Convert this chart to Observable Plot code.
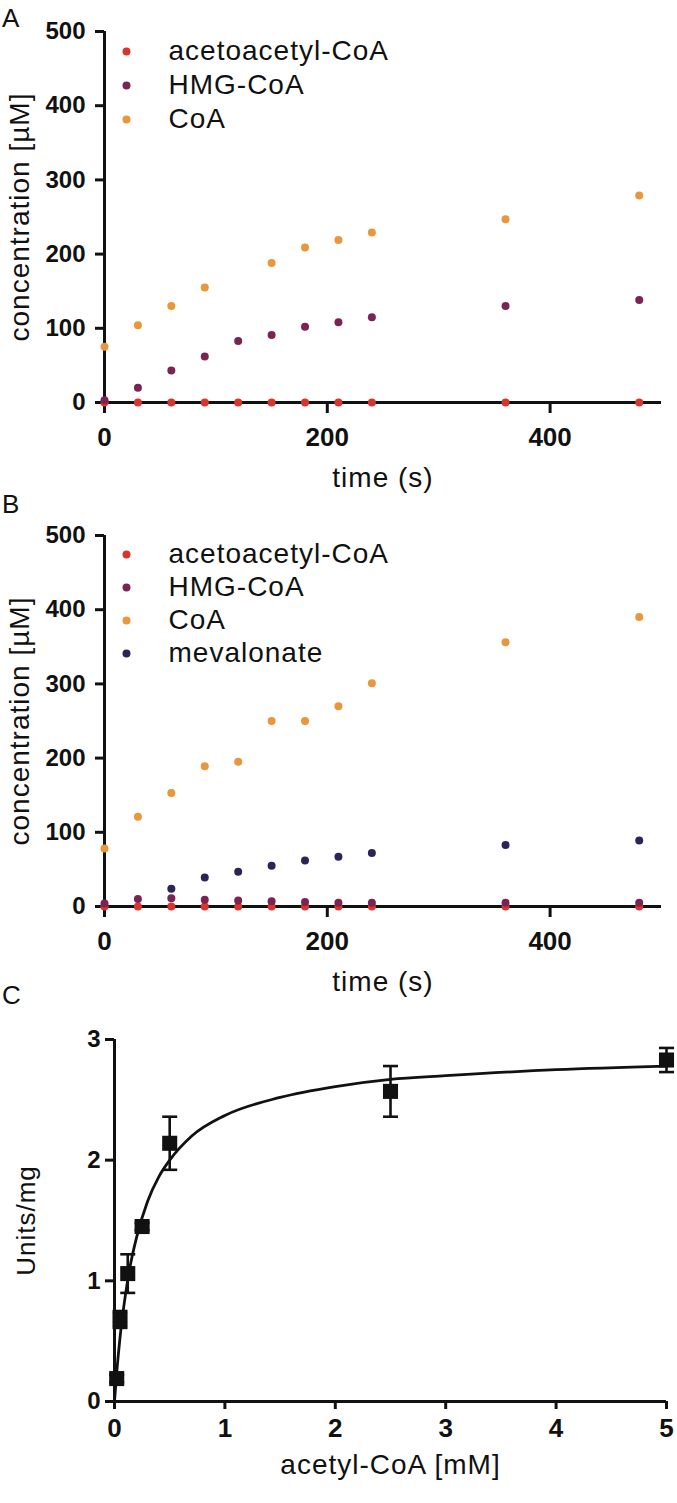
<!DOCTYPE html>
<html><head><meta charset="utf-8">
<script src="https://cdn.jsdelivr.net/npm/d3@7"></script>
<script src="https://cdn.jsdelivr.net/npm/@observablehq/plot@0.6"></script>
<style>
body{margin:0;background:#fff;}
#wrap{position:relative;width:677px;height:1503px;font-family:"Liberation Sans",Arial,sans-serif;color:#111;}
.plab{position:absolute;left:2px;font-size:26px;line-height:26px;}
svg{display:block;}
svg g[aria-label="text"] text{letter-spacing:1px;}
</style></head><body><div id="wrap"></div>
<script>
// ---- data ----
const times = [0, 30, 60, 90, 120, 150, 180, 210, 240, 360, 480];
const timeTicks = [0, 200, 400];
const concTicks = [0, 100, 200, 300, 400, 500];

const seriesA = ["acetoacetyl-CoA", "HMG-CoA", "CoA"];
const aAcetoacetyl = [0, 0, 0, 0, 0, 0, 0, 0, 0, 0, 0];
const aHMG = [3, 20, 43, 62, 83, 91, 102, 108, 115, 130, 138];
const aCoA = [75, 104, 130, 155, null, 188, 209, 219, 229, 247, 279];

const seriesB = ["acetoacetyl-CoA", "HMG-CoA", "CoA", "mevalonate"];
const bAcetoacetyl = [0, 0, 0, 0, 0, 0, 0, 0, 0, 0, 0];
const bHMG = [4, 10, 11, 9, 8, 7, 6, 5, 5, 5, 5];
const bCoA = [78, 121, 153, 189, 195, 250, 250, 270, 301, 356, 390];
const bMevalonate = [null, null, 24, 39, 47, 55, 62, 67, 72, 83, 89];

const seriesColors = ["#d8352c", "#7b2453", "#e9963c", "#2c2459"];

const substrate = [0.02, 0.05, 0.12, 0.25, 0.5, 2.5, 5];
const activity = [0.19, 0.68, 1.06, 1.45, 2.14, 2.57, 2.83];
const activityErr = [0.03, 0.07, 0.16, 0.03, 0.22, 0.21, 0.10];
const fitS = [0, 0.02, 0.05, 0.1, 0.15, 0.2, 0.3, 0.4, 0.5, 0.7, 1, 1.5, 2, 2.5, 3, 4, 5];
const fitV = [0, 0.24, 0.53, 0.89, 1.16, 1.36, 1.66, 1.86, 2.0, 2.2, 2.37, 2.52, 2.61, 2.67, 2.7, 2.75, 2.78];
const substrateTicks = [0, 1, 2, 3, 4, 5];
const activityTicks = [0, 1, 2, 3];

// ---- drawing ----
const FONT = '"Liberation Sans", Arial, sans-serif';
const INK = "#111";
const wrap = document.getElementById("wrap");

function timePanel({height, marginTop, marginBottom, names, columns, rowGap, legendTop}) {
  const data = [];
  names.forEach((name, k) => {
    columns[k].forEach((v, i) => { if (v != null) data.push({time: times[i], value: v, series: name}); });
  });
  const legend = [];
  names.forEach((name, i) => {
    legend.push(Plot.dot([name], {frameAnchor: "top-left", dx: 22, dy: legendTop + i * rowGap, r: 4, fill: seriesColors[i]}));
    legend.push(Plot.text([name], {text: d => d, frameAnchor: "top-left", dx: 64, dy: legendTop + i * rowGap,
      textAnchor: "start", lineAnchor: "middle", fontSize: 28, fill: INK}));
  });
  return Plot.plot({
    width: 677, height, marginLeft: 104, marginRight: 16, marginTop, marginBottom,
    style: {fontFamily: FONT, background: "white", color: INK, overflow: "visible"},
    x: {domain: [0, 500]},
    y: {domain: [0, 500]},
    color: {domain: names, range: seriesColors.slice(0, names.length)},
    marks: [
      Plot.axisY(concTicks, {tickSize: 9, tickPadding: 10, fontSize: 24, fontWeight: "bold", strokeWidth: 3, stroke: INK, fill: INK, label: null}),
      Plot.axisX(timeTicks, {tickSize: 11, tickPadding: 14, fontSize: 26, fontWeight: "bold", strokeWidth: 3, stroke: INK, fill: INK, label: null}),
      Plot.ruleX([0], {y1: 0, y2: 500, strokeWidth: 3, stroke: INK}),
      Plot.ruleY([0], {x1: 0, x2: 500, strokeWidth: 3, stroke: INK}),
      Plot.dot(data, {x: "time", y: "value", fill: "series", r: 4}),
      ...legend,
      Plot.text(["concentration [µM]"], {text: d => d, frameAnchor: "left", dx: -84, rotate: -90, textAnchor: "middle", lineAnchor: "middle", fontSize: 28, fill: INK}),
      Plot.text(["time (s)"], {text: d => d, frameAnchor: "bottom", dy: 76, textAnchor: "middle", lineAnchor: "middle", fontSize: 28, fill: INK})
    ]
  });
}

const capSymbol = {draw(context) { context.moveTo(-7.5, 0); context.lineTo(7.5, 0); }};
const kin = substrate.map((s, i) => ({s, v: activity[i], lo: activity[i] - activityErr[i], hi: activity[i] + activityErr[i]}));
const fit = fitS.map((s, i) => ({s, v: fitV[i]}));

const panelC = Plot.plot({
  width: 677, height: 503, marginLeft: 114, marginRight: 11, marginTop: 39, marginBottom: 102,
  style: {fontFamily: FONT, background: "white", color: INK, overflow: "visible"},
  x: {domain: [0, 5]},
  y: {domain: [0, 3]},
  marks: [
    Plot.axisY(activityTicks, {tickSize: 9, tickPadding: 5, tickFormat: d3.format("d"), fontSize: 24, fontWeight: "bold", strokeWidth: 3, stroke: INK, fill: INK, label: null}),
    Plot.axisX(substrateTicks, {tickSize: 8, tickPadding: 9, tickFormat: d3.format("d"), fontSize: 26, fontWeight: "bold", strokeWidth: 3, stroke: INK, fill: INK, label: null}),
    Plot.ruleX([0], {y1: 0, y2: 3, strokeWidth: 3, stroke: INK}),
    Plot.ruleY([0], {x1: 0, x2: 5, strokeWidth: 3, stroke: INK}),
    Plot.line(fit, {x: "s", y: "v", curve: "monotone-x", stroke: INK, strokeWidth: 2.8}),
    Plot.ruleX(kin, {x: "s", y1: "lo", y2: "hi", stroke: INK, strokeWidth: 2.6}),
    Plot.dot(kin, {x: "s", y: "hi", symbol: capSymbol, fill: "none", stroke: INK, strokeWidth: 2.6}),
    Plot.dot(kin, {x: "s", y: "lo", symbol: capSymbol, fill: "none", stroke: INK, strokeWidth: 2.6}),
    Plot.dot(kin, {x: "s", y: "v", symbol: "square", r: 8.5, fill: INK, stroke: "none"}),
    Plot.text(["Units/mg"], {text: d => d, frameAnchor: "left", dx: -88, rotate: -90, textAnchor: "middle", lineAnchor: "middle", fontSize: 26, fill: INK}),
    Plot.text(["acetyl-CoA [mM]"], {text: d => d, frameAnchor: "bottom", dy: 64, textAnchor: "middle", lineAnchor: "middle", fontSize: 28, fill: INK})
  ]
});

const pA = timePanel({height: 495, marginTop: 31, marginBottom: 93, names: seriesA,
  columns: [aAcetoacetyl, aHMG, aCoA], rowGap: 34, legendTop: 20});
const pB = timePanel({height: 505, marginTop: 40, marginBottom: 94, names: seriesB,
  columns: [bAcetoacetyl, bHMG, bCoA, bMevalonate], rowGap: 33, legendTop: 19});

wrap.append(pA, pB, panelC);

[["A", 5], ["B", 491], ["C", 982]].forEach(([t, top]) => {
  const d = document.createElement("div");
  d.className = "plab"; d.textContent = t; d.style.top = top + "px";
  wrap.append(d);
});
</script></body></html>
